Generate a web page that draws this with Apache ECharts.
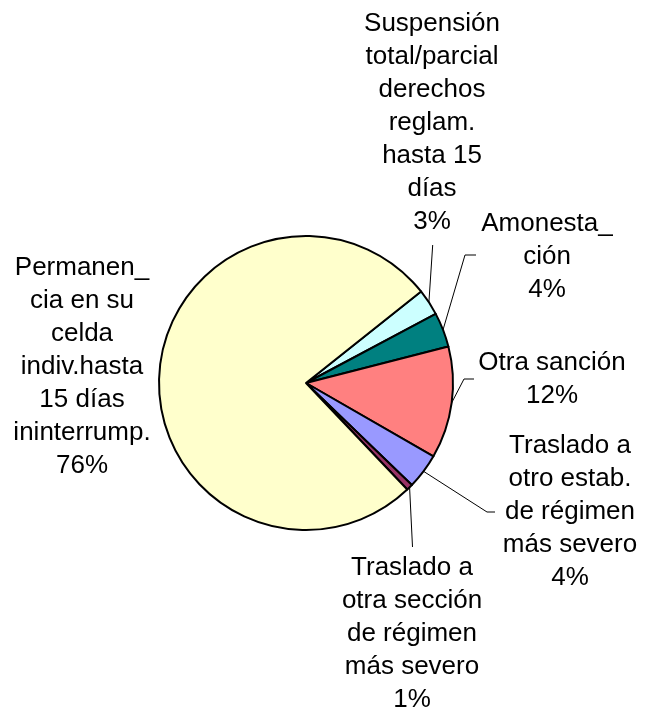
<!DOCTYPE html>
<html>
<head>
<meta charset="utf-8">
<script src="https://cdn.jsdelivr.net/npm/echarts@6/dist/echarts.min.js"></script>
<style>
html,body{margin:0;padding:0;background:#fff;}
#chart{width:646px;height:710px;}
</style>
</head>
<body>
<div id="chart"></div>
<script>
var categories = [
  'Suspensión\ntotal/parcial\nderechos\nreglam.\nhasta 15\ndías',
  'Amonesta_\nción',
  'Otra sanción',
  'Traslado a\notro estab.\nde régimen\nmás severo',
  'Traslado a\notra sección\nde régimen\nmás severo',
  'Permanen_\ncia en su\ncelda\nindiv.hasta\n15 días\nininterrump.'
];
var values = [2.9, 3.8, 12.3, 3.9, 0.7, 76.4];
var colors = ['#CCFFFF', '#008080', '#FF8080', '#9999FF', '#993366', '#FFFFCC'];

// label placement (layout only)
var labelPos = [
  {x: 432, y: 123, line: [[432.7, 245], [432.7, 245]]},
  {x: 547, y: 257, line: [[465, 255], [476, 255]]},
  {x: 552, y: 379, line: [[464, 379], [474, 379]]},
  {x: 570, y: 512, line: [[487, 512], [495, 512]]},
  {x: 412, y: 634, line: [[412.5, 547], [412.5, 547]]},
  {x: 82, y: 367, line: null}
];

var total = values.reduce(function (a, b) { return a + b; }, 0);
var data = categories.map(function (c, i) {
  return {
    name: c,
    value: values[i],
    itemStyle: {color: colors[i]},
    labelLine: {show: labelPos[i].line !== null}
  };
});

var chart = echarts.init(document.getElementById('chart'), null, {renderer: 'canvas'});
chart.setOption({
  backgroundColor: '#ffffff',
  animation: false,
  series: [{
    type: 'pie',
    center: [306, 383],
    radius: 147,
    startAngle: 38.5,
    clockwise: true,
    avoidLabelOverlap: false,
    data: data,
    itemStyle: {borderColor: '#000', borderWidth: 2},
    emphasis: {disabled: true},
    label: {
      show: true,
      position: 'outside',
      fontFamily: 'Liberation Sans, Arial, sans-serif',
      fontSize: 26,
      lineHeight: 33,
      color: '#000',
      align: 'center',
      formatter: function (p) {
        return p.name + '\n' + Math.round(p.value / total * 100) + '%';
      }
    },
    labelLine: {show: true, lineStyle: {color: '#000', width: 1}, length: 10, length2: 10},
    labelLayout: function (params) {
      var lp = labelPos[params.dataIndex];
      var res = {x: lp.x, y: lp.y, align: 'center', verticalAlign: 'middle'};
      if (lp.line && params.labelLinePoints) {
        res.labelLinePoints = [params.labelLinePoints[0], lp.line[0], lp.line[1]];
      }
      return res;
    }
  }]
});
</script>
</body>
</html>
